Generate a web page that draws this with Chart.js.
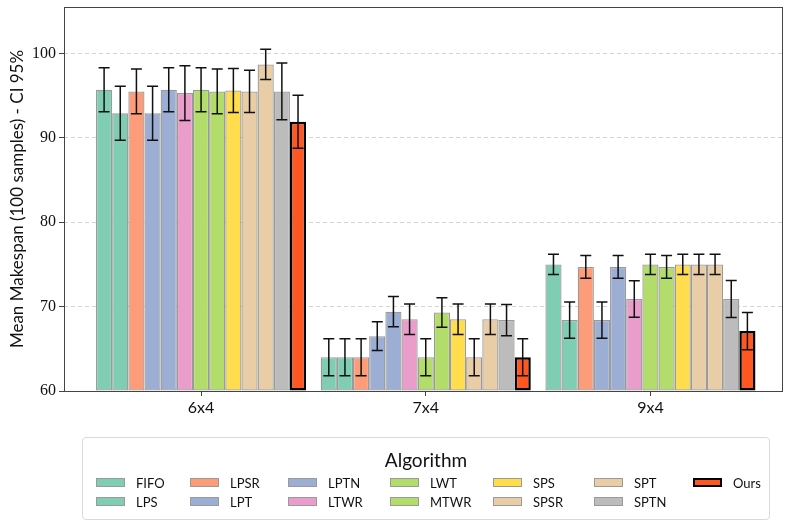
<!DOCTYPE html>
<html>
<head>
<meta charset="utf-8">
<script src="https://cdn.jsdelivr.net/npm/chart.js@4.4.1/dist/chart.umd.min.js"></script>
<style>
  html, body { margin: 0; padding: 0; background: #fff; }
  #wrap { position: relative; width: 797px; height: 529px; }
  #legend {
    position: absolute; left: 82px; top: 437px; width: 688px; height: 83px;
    border: 1px solid #d9d9d9; border-radius: 4px; box-sizing: border-box;
    font-family: Lato, sans-serif; color: #111;
  }
  #legend .title { position: absolute; left: 0; right: 0; top: 10px; text-align: center; font-size: 19px; }
  #legend .item { position: absolute; height: 14px; font-size: 13px; line-height: 14px; white-space: nowrap; }
  #legend .sw { position: absolute; left: 0; top: 2px; width: 29px; height: 9px; box-sizing: border-box; }
  #legend .lbl { position: absolute; left: 40px; top: 0; }
</style>
</head>
<body>
<div id="wrap">
  <canvas id="chart" width="797" height="529"></canvas>
  <div id="legend"><div class="title">Algorithm</div></div>
</div>
<script>
// chart data
const categories = ["6x4", "7x4", "9x4"];
const algorithms = ["FIFO", "LPS", "LPSR", "LPT", "LPTN", "LTWR", "LWT", "MTWR", "SPS", "SPSR", "SPT", "SPTN", "Ours"];

// mean makespan per algorithm (same order as algorithms)
const mean6x4 = [95.7, 92.9, 95.5, 92.9, 95.7, 95.3, 95.7, 95.5, 95.6, 95.5, 98.7, 95.5, 91.9];
const mean7x4 = [64.0, 64.0, 64.0, 66.5, 69.4, 68.5, 64.0, 69.3, 68.5, 64.0, 68.5, 68.4, 64.0];
const mean9x4 = [75.0, 68.4, 74.7, 68.4, 74.7, 70.9, 75.0, 74.7, 75.0, 75.0, 75.0, 70.9, 67.1];

// 95% CI half widths
const ci6x4 = [2.6, 3.2, 2.65, 3.2, 2.6, 3.25, 2.6, 2.65, 2.6, 2.5, 1.8, 3.35, 3.15];
const ci7x4 = [2.2, 2.2, 2.2, 1.7, 1.8, 1.8, 2.2, 1.75, 1.8, 2.2, 1.8, 1.85, 2.2];
const ci9x4 = [1.2, 2.15, 1.35, 2.15, 1.35, 2.15, 1.2, 1.35, 1.2, 1.2, 1.2, 2.2, 2.2];

const fillColors = ["#7fcdb3", "#7fcdb3", "#fc9c79", "#9caed4", "#9caed4", "#ea9ccb", "#b3dd6b", "#b3dd6b",
                    "#ffdd4d", "#e8cda7", "#e8cda7", "#bcbcbc", "#ff5722"];

const meansByCat = [mean6x4, mean7x4, mean9x4];
const ciByCat = [ci6x4, ci7x4, ci9x4];

const datasets = algorithms.map((name, i) => {
  const ours = name === "Ours";
  return {
    label: name,
    data: categories.map((c, k) => ({ x: k, y: meansByCat[k][i] })),
    ci: categories.map((c, k) => ciByCat[k][i]),
    backgroundColor: fillColors[i],
    borderColor: ours ? "#000" : "#9a9a9a",
    borderWidth: ours ? 2.5 : 1.3,
    borderSkipped: false,
    base: 60,
    categoryPercentage: 0.935,
    barPercentage: 1.0
  };
});

// error bars drawn from the y scale
const errorBars = {
  id: "errorBars",
  afterDatasetsDraw(chart) {
    const ctx = chart.ctx;
    const y = chart.scales.y;
    ctx.save();
    ctx.strokeStyle = "#111";
    ctx.lineWidth = 1.5;
    chart.data.datasets.forEach((ds, i) => {
      const meta = chart.getDatasetMeta(i);
      meta.data.forEach((el, j) => {
        const v = ds.data[j].y, e = ds.ci[j];
        const top = y.getPixelForValue(v + e), bot = y.getPixelForValue(v - e);
        ctx.beginPath();
        ctx.moveTo(el.x, top); ctx.lineTo(el.x, bot);
        ctx.moveTo(el.x - 5.5, top); ctx.lineTo(el.x + 5.5, top);
        ctx.moveTo(el.x - 5.5, bot); ctx.lineTo(el.x + 5.5, bot);
        ctx.stroke();
      });
    });
    ctx.restore();
  },
  afterDraw(chart) {
    const a = chart.chartArea, ctx = chart.ctx;
    ctx.save();
    ctx.strokeStyle = "#444";
    ctx.lineWidth = 1;
    ctx.strokeRect(a.left + 0.5, a.top + 0.5, a.right - a.left - 1, a.bottom - a.top);
    ctx.restore();
  }
};

Chart.defaults.font.family = "Lato, sans-serif";
Chart.defaults.color = "#111";

new Chart(document.getElementById("chart"), {
  type: "bar",
  data: { datasets },
  options: {
    responsive: false,
    animation: false,
    layout: { padding: { left: 0, top: 7, right: 14, bottom: 108 } },
    plugins: { legend: { display: false }, tooltip: { enabled: false } },
    scales: {
      x: {
        type: "linear",
        min: -0.61,
        max: 2.59,
        offset: false,
        afterBuildTicks: (s) => { s.ticks = categories.map((c, k) => ({ value: k })); },
        afterFit: (s) => { s.height = 30; s.paddingLeft = 0; s.paddingRight = 0; },
        ticks: {
          callback: (v) => categories[v],
          font: { size: 16 },
          padding: 2,
          maxRotation: 0,
          autoSkip: false
        },
        grid: { display: true, offset: false, drawOnChartArea: false, drawTicks: true, tickLength: 5, tickColor: "#444" },
        border: { display: false }
      },
      y: {
        min: 60,
        max: 105.5,
        afterFit: (s) => { s.width = 64; s.paddingTop = 0; s.paddingBottom = 0; },
        ticks: {
          stepSize: 10,
          includeBounds: false,
          padding: 3,
          font: { family: "'Liberation Serif', serif", size: 16 }
        },
        grid: { color: "#d3d3d3", lineWidth: 1, tickLength: 5, tickColor: "#444", tickBorderDash: [] },
        border: { display: false, dash: [4, 3] },
        title: {
          display: true,
          text: "Mean Makespan (100 samples) - CI 95%",
          font: { size: 17 },
          padding: { top: 7, bottom: 0 }
        }
      }
    }
  },
  plugins: [errorBars]
});

// legend, column-major like the original
const legendCols = [0, 94, 192, 294, 397, 498, 597];
const legendEl = document.getElementById("legend");
algorithms.forEach((name, i) => {
  const col = Math.floor(i / 2), row = i % 2;
  const item = document.createElement("div");
  item.className = "item";
  item.style.left = (13 + legendCols[col]) + "px";
  item.style.top = (38 + row * 18.5) + "px";
  const sw = document.createElement("div");
  sw.className = "sw";
  sw.style.background = fillColors[i];
  sw.style.border = name === "Ours" ? "2.5px solid #000" : "1.3px solid #9a9a9a";
  const lbl = document.createElement("span");
  lbl.className = "lbl";
  lbl.textContent = name;
  item.appendChild(sw);
  item.appendChild(lbl);
  legendEl.appendChild(item);
});
</script>
</body>
</html>
